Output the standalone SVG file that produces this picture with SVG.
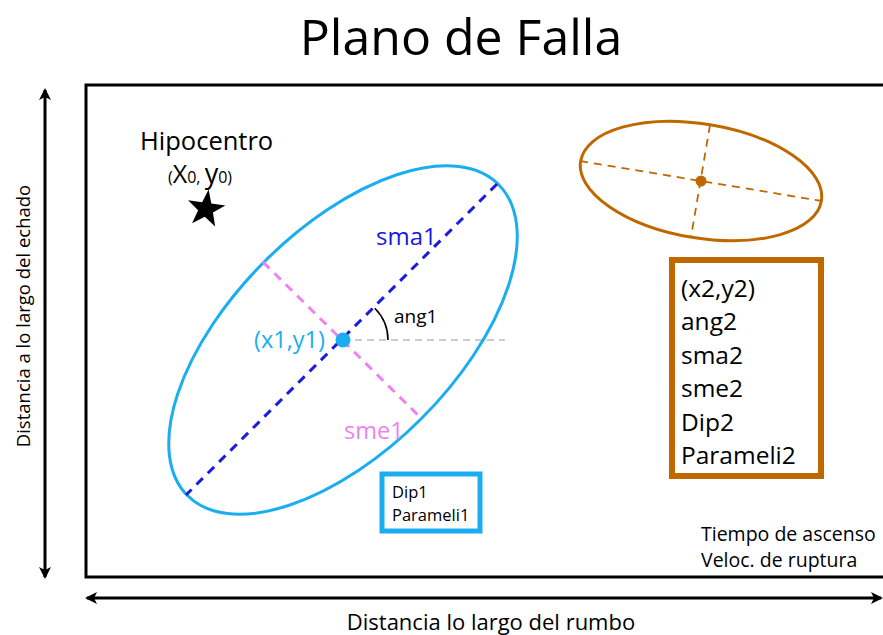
<svg xmlns="http://www.w3.org/2000/svg" width="883" height="635" viewBox="0 0 883 635">
<style>
text{font-family:"Open Sans","Liberation Sans",Arial,sans-serif;fill:#000}
.ax{stroke:#000;stroke-width:3;fill:none}
</style>
<defs>
<marker id="ah" viewBox="0 0 12 12" refX="10" refY="6" markerWidth="12" markerHeight="12" markerUnits="userSpaceOnUse" orient="auto-start-reverse">
<path d="M0,0 L12,6 L0,12 L3,6 Z" fill="#000"/>
</marker>
</defs>
<rect width="883" height="635" fill="#fff"/>
<text x="461" y="55" font-size="50" text-anchor="middle">Plano de Falla</text>
<g id="frame"><path d="M890,85 H86 V577 H890" class="ax"/></g>
<g id="connectors">
<line x1="45" y1="90" x2="45" y2="577" class="ax" stroke-width="2.5" marker-start="url(#ah)" marker-end="url(#ah)"/>
<line x1="87" y1="598" x2="881" y2="598" class="ax" stroke-width="2.5" marker-start="url(#ah)" marker-end="url(#ah)"/>
</g>
<text transform="translate(30,316) rotate(-90)" font-size="18.5" text-anchor="middle">Distancia a lo largo del echado</text>
<text x="491" y="630" font-size="22" text-anchor="middle">Distancia lo largo del rumbo</text>
<g id="hipocentro">
<text x="140" y="150" font-size="25.5">Hipocentro</text>
<text x="168" y="183" font-size="16">(<tspan font-size="25">X</tspan>0, <tspan font-size="27">y</tspan>0)</text>
<polygon points="206,190 210.2,202.2 223.1,202.4 212.8,210.1 216.6,222.4 206,215 195.4,222.4 199.2,210.1 188.9,202.4 201.8,202.2" fill="#000" transform="rotate(8 206 208) translate(206 208) scale(1.1) translate(-206 -207)"/>
</g>
<g id="ellipse1">
<ellipse cx="343" cy="340" rx="220" ry="111" transform="rotate(-45 343 340)" fill="none" stroke="#1aaef0" stroke-width="3"/>
<line x1="263" y1="262" x2="421" y2="418" stroke="#ee82ee" stroke-width="3" stroke-dasharray="9,7"/>
<line x1="497" y1="184" x2="186" y2="495" stroke="#1a1ae0" stroke-width="3" stroke-dasharray="9,7"/>
<line x1="343" y1="340" x2="505" y2="340" stroke="#999" stroke-width="1.2" stroke-dasharray="7,5"/>
<path d="M374.8,308.2 A45,45 0 0 1 388,340" fill="none" stroke="#000" stroke-width="1.6"/>
<circle cx="343" cy="340" r="7.5" fill="#1aaef0"/>
<text x="376" y="245" font-size="24" style="fill:#1a1ae0">sma1</text>
<text x="394" y="323" font-size="19">ang1</text>
<text x="254" y="348" font-size="23.5" style="fill:#1aaef0">(x1,y1)</text>
<text x="344" y="439" font-size="23.5" style="fill:#ee82ee">sme1</text>
</g>
<g id="box1">
<rect x="382" y="474" width="98" height="57" fill="#fff" stroke="#1aaef0" stroke-width="5"/>
<text x="392" y="498" font-size="16.5">Dip1</text>
<text x="392" y="521" font-size="16.5">Parameli1</text>
</g>
<g id="ellipse2">
<ellipse cx="701" cy="181" rx="122" ry="57" transform="rotate(9.4 701 181)" fill="none" stroke="#c06800" stroke-width="3"/>
<line x1="580" y1="161" x2="822" y2="201" stroke="#c06800" stroke-width="1.8" stroke-dasharray="8,6"/>
<line x1="710" y1="125" x2="691" y2="237" stroke="#c06800" stroke-width="1.8" stroke-dasharray="8,6"/>
<circle cx="701" cy="181" r="5.5" fill="#c06800"/>
</g>
<g id="box2">
<rect x="672" y="260" width="149" height="216" fill="#fff" stroke="#c06800" stroke-width="6"/>
<text x="681" y="297" font-size="24.5">(x2,y2)</text>
<text x="681" y="330" font-size="24.5">ang2</text>
<text x="681" y="364" font-size="24.5">sma2</text>
<text x="681" y="397" font-size="24.5">sme2</text>
<text x="681" y="431" font-size="24.5">Dip2</text>
<text x="681" y="464" font-size="24.5">Parameli2</text>
</g>
<g id="notes">
<text x="701" y="541" font-size="19.5">Tiempo de ascenso</text>
<text x="701" y="567" font-size="19.5">Veloc. de ruptura</text>
</g>
</svg>
